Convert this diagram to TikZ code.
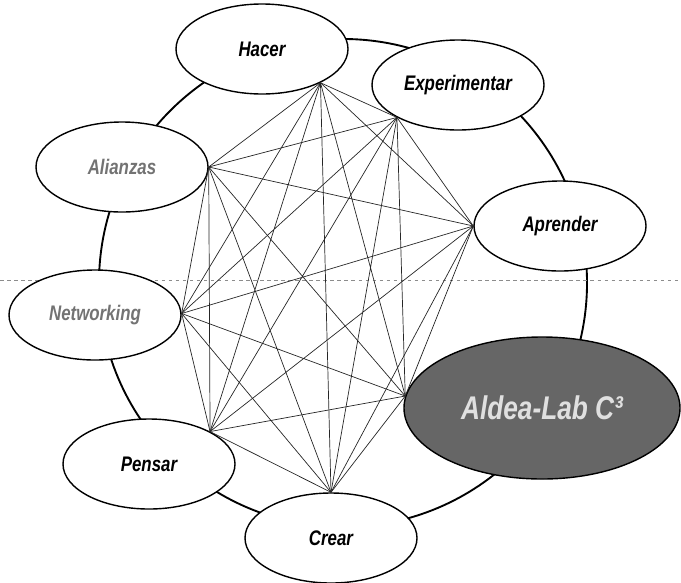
\documentclass[tikz,border=0pt]{standalone}
\usepackage{fontspec}
\usepackage{tikz}
\usetikzlibrary{shapes.geometric}
\newfontfamily\labelfont[FakeStretch=0.8]{Liberation Sans}
\tikzset{main/.style={draw=black, ellipse, fill=white, line width=1.2pt, minimum width=5.16cm, minimum height=2.7cm, inner sep=0pt, font=\labelfont\bfseries\itshape\fontsize{18}{20}\selectfont}}
\tikzset{link/.style={draw=black!85, line width=0.6pt, line join=round}}

\begin{document}
\begin{tikzpicture}[x=0.03cm, y=-0.03cm]
		\useasboundingbox (0,0) rectangle (681,582);
		\draw[line width=1.6pt] (343,283) circle [radius=7.32cm];
		\draw[black!45, dashed, line width=0.4pt] (0,280) -- (681,280);
		
		\node[main] (Ha) at (262,49) {Hacer};
		\node[main] (Ex) at (458,85) {Experimentar};
		\node[main] (Ap) at (560,226) {Aprender};
		\node[main, fill=black!60, minimum width=8.28cm, minimum height=4.26cm, text=black!12, font=\labelfont\bfseries\itshape\fontsize{28}{30}\selectfont] (Al) at (542,408) {Aldea-Lab C³};
		\node[main] (Cr) at (331,538) {Crear};
		\node[main] (Pe) at (149,464) {Pensar};
		\node[main, text=black!55] (Ne) at (95,315) {Networking};
		\node[main, text=black!55] (Ai) at (122,167) {Alianzas};
		
		\coordinate (h) at (Ha.-30);
		\coordinate (e) at (Ex.-152);
		\coordinate (a) at (Ap.180);
		\coordinate (l) at (Al.175);
		\coordinate (c) at (Cr.90);
		\coordinate (p) at (Pe.28);
		\coordinate (n) at (Ne.1);
		\coordinate (i) at (Ai.0);
		
		\draw[link] (h) -- (e) -- (a) -- (l) -- (c) -- (p) -- (n) -- (i) -- cycle;
		\draw[link] (h) -- (a) -- (c) -- (n) -- cycle;
		\draw[link] (e) -- (l) -- (p) -- (i) -- cycle;
		\draw[link] (h) -- (l) -- (n) -- (e) -- (c) -- (i) -- (a) -- (p) -- cycle;
		\draw[link] (h) -- (c) (e) -- (p) (a) -- (n) (l) -- (i);
	\end{tikzpicture}
\end{document}
